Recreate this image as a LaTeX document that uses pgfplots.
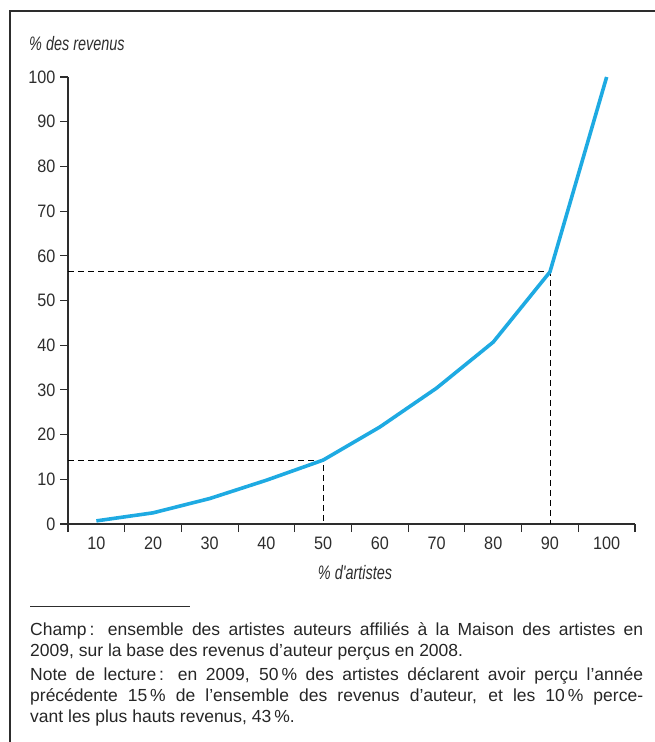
\documentclass[border=0pt]{standalone}
\usepackage{pgfplots}
\pgfplotsset{compat=1.18}
\usepackage{fontspec}
\setmainfont{Liberation Sans}
\newfontfamily\cond{Liberation Sans}[FakeStretch=0.74]
\newfontfamily\tickfont{Liberation Sans}[FakeStretch=0.9]
\definecolor{courbe}{RGB}{30,170,226}
\definecolor{trait}{RGB}{45,45,45}
\begin{document}
\begin{tikzpicture}[x=1pt,y=1pt]
\path[use as bounding box] (0,0) rectangle (655,-742);
% cadre
\draw[trait, line width=1.3pt] (10,-742) -- (10,-11) -- (655,-11);
\begin{axis}[
    at={(68pt,-524pt)}, anchor=south west,
    scale only axis, width=567pt, height=447pt,
    xmin=5, xmax=105, ymin=0, ymax=100,
    axis lines=left,
    axis line style={trait, line width=1.3pt, -},
    xtick={10,20,...,100},
    minor xtick={5,15,...,105},
    major x tick style={draw=none},
    ytick={0,10,...,100},
    tick align=outside,
    major tick length=8pt, minor tick length=8pt,
    tick style={trait, line width=1.1pt},
    xticklabel={\tickfont\fontsize{18}{18}\selectfont\pgfmathprintnumber{\tick}},
    yticklabel={\tickfont\fontsize{18}{18}\selectfont\pgfmathprintnumber{\tick}},
    ticklabel style={text=trait},
    xticklabel style={yshift=-1pt},
    yticklabel style={xshift=-1pt},
    /pgf/number format/assume math mode=true,
    clip=false,
]
\addplot[black, line width=0.9pt, dash pattern=on 6pt off 4pt] coordinates {(5,14.3) (50,14.3) (50,0)};
\addplot[black, line width=0.9pt, dash pattern=on 6pt off 4pt] coordinates {(5,56.4) (90,56.4) (90,0)};
\addplot[courbe, line width=3.6pt, line join=round] coordinates {
(10,0.7)
(20,2.5)
(30,5.7)
(40,9.8)
(50,14.3)
(60,21.7)
(70,30.4)
(80,40.7)
(90,56.4)
(100,100)
};
\end{axis}
\node[anchor=west, inner sep=0, text=trait, font=\cond\itshape\fontsize{19.5}{19.5}\selectfont] at (29,-44) {\% des revenus};
\node[anchor=center, inner sep=0, text=trait, font=\cond\itshape\fontsize{19.5}{19.5}\selectfont] at (355,-573) {\% d'artistes};
\draw[trait, line width=0.9pt] (30,-606) -- (190,-606);
\node[anchor=north west, inner sep=0, text width=613pt, align=justify, text=black!85,
      font=\fontsize{17.5}{21}\selectfont] at (30,-622) {%
Champ\,: ensemble des artistes auteurs affiliés à la Maison des artistes en\linebreak 2009, sur la base des revenus d’auteur perçus en 2008.\par\vspace{3pt}
Note de lecture\,: en 2009, 50\,\% des artistes déclarent avoir perçu l’année\linebreak précédente 15\,\% de l’ensemble des revenus d’auteur, et les 10\,\% perce-\linebreak vant les plus hauts revenus, 43\,\%.};
\end{tikzpicture}
\end{document}
